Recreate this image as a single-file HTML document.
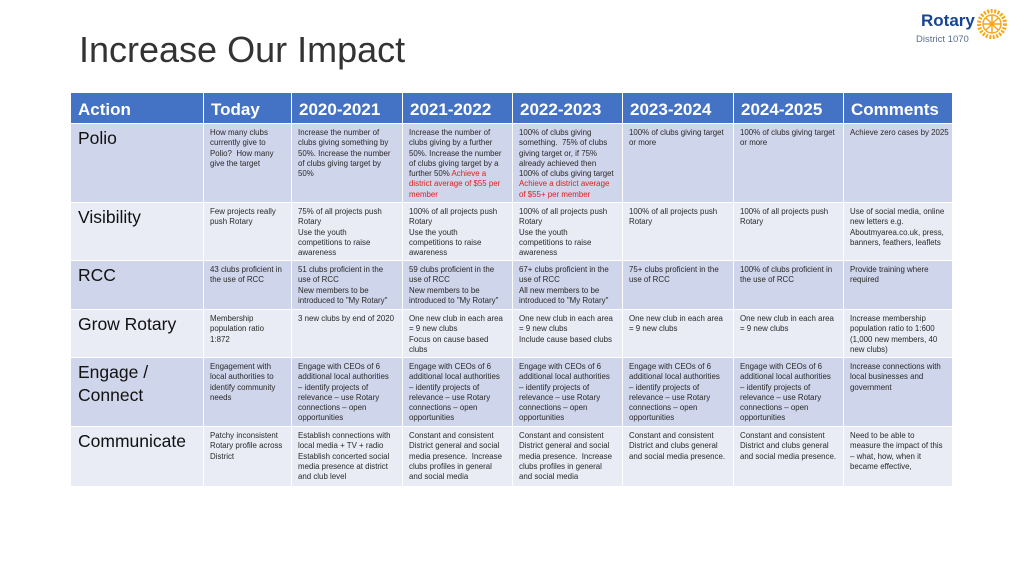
<!DOCTYPE html>
<html><head><meta charset="utf-8">
<style>
body{margin:0;width:1024px;height:576px;background:#fff;position:relative;overflow:hidden;font-family:"Liberation Sans",sans-serif;}
h1{position:absolute;left:79px;top:29px;margin:0;font-weight:normal;font-size:36px;color:#333;font-family:"Liberation Sans",sans-serif;}
table{position:absolute;left:70px;top:92px;border-collapse:collapse;table-layout:fixed;}
td,th{border:1.5px solid #fff;vertical-align:top;padding:0;}
th{background:#4472C4;color:#fff;font-size:17px;text-align:left;height:31px;padding:4px 0 0 7px;box-sizing:border-box;vertical-align:middle}
td{font-size:7.9px;line-height:10.3px;color:#2a2a2a;padding:4px 0 0 6px;white-space:nowrap;overflow:hidden;}
td.l{font-size:17.5px;line-height:23px;color:#111;padding:3px 0 0 7px;}
tr.d td{background:#cfd5ea}
tr.w td{background:#e9ebf5}
.r{color:#e02020}
</style></head><body>
<h1>Increase Our Impact</h1>
<div style="position:absolute;left:918px;top:8px;width:100px;height:40px">
<div style="position:absolute;left:3px;top:3px;font-size:17px;font-weight:bold;color:#17458f">Rotary</div>
<div style="position:absolute;left:-2px;top:26px;font-size:9.5px;color:#5a6f90">District 1070</div>
<svg style="position:absolute;left:58px;top:0" width="32" height="32" viewBox="0 0 32 32"><circle cx="16" cy="16" r="13" fill="none" stroke="#f7a81b" stroke-width="4" stroke-dasharray="2 1.5"/><circle cx="16" cy="16" r="9" fill="none" stroke="#f7a81b" stroke-width="1.5"/><g stroke="#f7a81b" stroke-width="1.5"><line x1="16" y1="7" x2="16" y2="25"/><line x1="7" y1="16" x2="25" y2="16"/><line x1="10" y1="10" x2="22" y2="22"/><line x1="22" y1="10" x2="10" y2="22"/></g><circle cx="16" cy="16" r="2.5" fill="#f7a81b"/></svg>
</div>
<table>
<colgroup><col style="width:133px"><col style="width:88px"><col style="width:111px"><col style="width:110px"><col style="width:110px"><col style="width:111px"><col style="width:110px"><col style="width:109px"></colgroup>
<tr><th>Action</th><th>Today</th><th>2020-2021</th><th>2021-2022</th><th>2022-2023</th><th>2023-2024</th><th>2024-2025</th><th>Comments</th></tr>
<tr class="d" style="height:79px"><td class="l">Polio</td><td>How many clubs<br>currently give to<br>Polio?&nbsp; How many<br>give the target</td><td>Increase the number of<br>clubs giving something by<br>50%. Increase the number<br>of clubs giving target by<br>50%</td><td>Increase the number of<br>clubs giving by a further<br>50%. Increase the number<br>of clubs giving target by a<br>further 50% <span class="r">Achieve a<br>district average of $55 per<br>member</span></td><td>100% of clubs giving<br>something.&nbsp; 75% of clubs<br>giving target or, if 75%<br>already achieved then<br>100% of clubs giving target<br><span class="r">Achieve a district average<br>of $55+ per member</span></td><td>100% of clubs giving target<br>or more</td><td>100% of clubs giving target<br>or more</td><td>Achieve zero cases by 2025</td></tr>
<tr class="w" style="height:58px"><td class="l">Visibility</td><td>Few projects really<br>push Rotary</td><td>75% of all projects push<br>Rotary<br>Use the youth<br>competitions to raise<br>awareness</td><td>100% of all projects push<br>Rotary<br>Use the youth<br>competitions to raise<br>awareness</td><td>100% of all projects push<br>Rotary<br>Use the youth<br>competitions to raise<br>awareness</td><td>100% of all projects push<br>Rotary</td><td>100% of all projects push<br>Rotary</td><td>Use of social media, online<br>new letters e.g.<br>Aboutmyarea.co.uk, press,<br>banners, feathers, leaflets</td></tr>
<tr class="d" style="height:49px"><td class="l">RCC</td><td>43 clubs proficient in<br>the use of RCC</td><td>51 clubs proficient in the<br>use of RCC<br>New members to be<br>introduced to "My Rotary"</td><td>59 clubs proficient in the<br>use of RCC<br>New members to be<br>introduced to "My Rotary"</td><td>67+ clubs proficient in the<br>use of RCC<br>All new members to be<br>introduced to "My Rotary"</td><td>75+ clubs proficient in the<br>use of RCC</td><td>100% of clubs proficient in<br>the use of RCC</td><td>Provide training where<br>required</td></tr>
<tr class="w" style="height:48px"><td class="l">Grow Rotary</td><td>Membership<br>population ratio<br>1:872</td><td>3 new clubs by end of 2020</td><td>One new club in each area<br>= 9 new clubs<br>Focus on cause based<br>clubs</td><td>One new club in each area<br>= 9 new clubs<br>Include cause based clubs</td><td>One new club in each area<br>= 9 new clubs</td><td>One new club in each area<br>= 9 new clubs</td><td>Increase membership<br>population ratio to 1:600<br>(1,000 new members, 40<br>new clubs)</td></tr>
<tr class="d" style="height:69px"><td class="l">Engage /<br>Connect</td><td>Engagement with<br>local authorities to<br>identify community<br>needs</td><td>Engage with CEOs of 6<br>additional local authorities<br>– identify projects of<br>relevance – use Rotary<br>connections – open<br>opportunities</td><td>Engage with CEOs of 6<br>additional local authorities<br>– identify projects of<br>relevance – use Rotary<br>connections – open<br>opportunities</td><td>Engage with CEOs of 6<br>additional local authorities<br>– identify projects of<br>relevance – use Rotary<br>connections – open<br>opportunities</td><td>Engage with CEOs of 6<br>additional local authorities<br>– identify projects of<br>relevance – use Rotary<br>connections – open<br>opportunities</td><td>Engage with CEOs of 6<br>additional local authorities<br>– identify projects of<br>relevance – use Rotary<br>connections – open<br>opportunities</td><td>Increase connections with<br>local businesses and<br>government</td></tr>
<tr class="w" style="height:60px"><td class="l">Communicate</td><td>Patchy inconsistent<br>Rotary profile across<br>District</td><td>Establish connections with<br>local media + TV + radio<br>Establish concerted social<br>media presence at district<br>and club level</td><td>Constant and consistent<br>District general and social<br>media presence.&nbsp; Increase<br>clubs profiles in general<br>and social media</td><td>Constant and consistent<br>District general and social<br>media presence.&nbsp; Increase<br>clubs profiles in general<br>and social media</td><td>Constant and consistent<br>District and clubs general<br>and social media presence.</td><td>Constant and consistent<br>District and clubs general<br>and social media presence.</td><td>Need to be able to<br>measure the impact of this<br>– what, how, when it<br>became effective,</td></tr>
</table>
</body></html>
